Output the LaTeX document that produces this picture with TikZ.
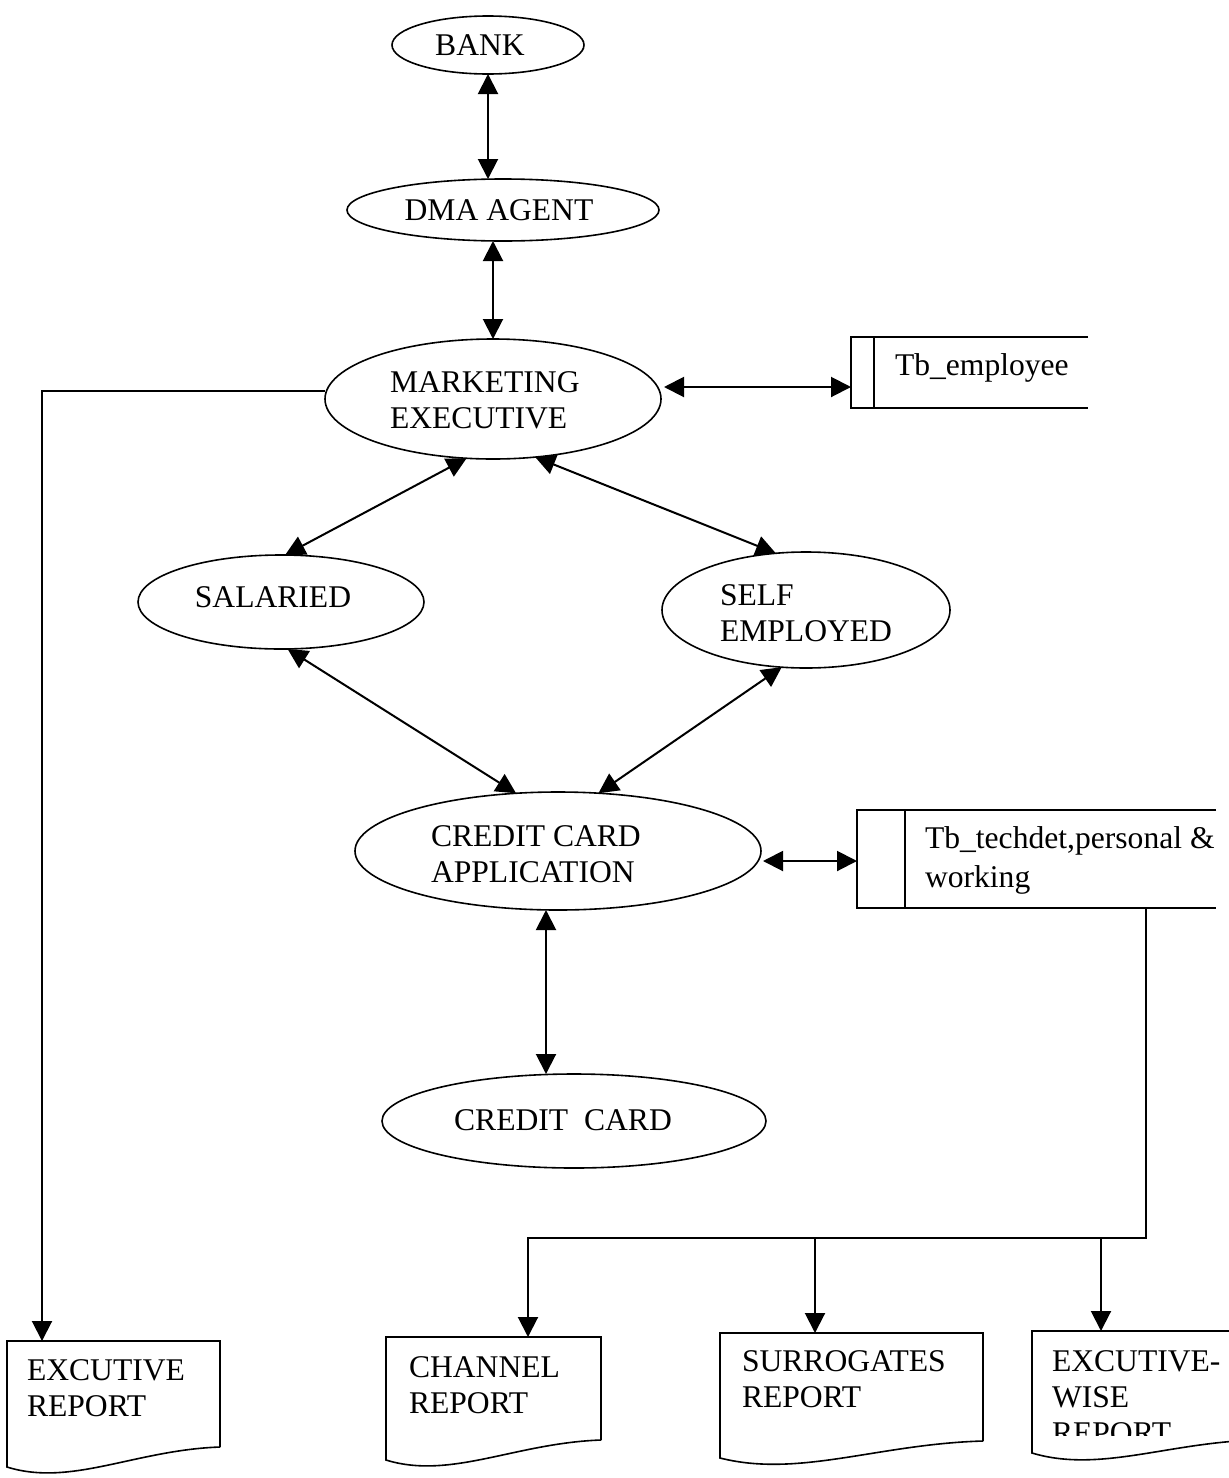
\documentclass[tikz,border=0pt]{standalone}
\usepackage{fontspec}
\setmainfont{Liberation Serif}
\usetikzlibrary{arrows.meta,shapes.geometric}
\newcommand{\reportshape}[5]{%
  \draw[shapeline] (#2,#5) -- (#2,#3) -- (#1,#3) -- (#1,#4)
    .. controls ({#1+0.3*(#2-#1)},{#4+20}) and ({#1+0.6*(#2-#1)},{#5+3}) .. (#2,#5);}
\begin{document}
\begin{tikzpicture}[x=0.5pt,y=-0.5pt,
  >={Triangle[length=10pt,width=10pt]},
  txt/.style={font=\fontsize{15.8}{18}\selectfont, inner sep=0pt, outer sep=0pt, align=left},
  oval/.style={ellipse, draw, line width=0.8pt, inner sep=0pt, outer sep=0pt},
  shapeline/.style={line width=0.8pt},
  storebox/.style={inner sep=0pt, outer sep=0pt},
  biarrow/.style={line width=1pt, <->},
  onearrow/.style={line width=1pt, ->}
]
\path[fill=white,use as bounding box] (0,0) rectangle (1229,1478);

% ovals
\node[oval, minimum width=96pt, minimum height=29pt] (bank) at (488,45) {};
\node[oval, minimum width=156pt, minimum height=31pt] (dma) at (503,210) {};
\node[oval, minimum width=168pt, minimum height=60pt] (me) at (493,399) {};
\node[oval, minimum width=143pt, minimum height=47pt] (sal) at (281,602) {};
\node[oval, minimum width=144pt, minimum height=58pt] (sel) at (806,610) {};
\node[oval, minimum width=203pt, minimum height=59pt] (cca) at (558,851) {};
\node[oval, minimum width=192pt, minimum height=47pt] (cc) at (574,1121) {};

\node[txt] (bank-t) at (480,45) {BANK};
\node[txt] (dma-t) at (499,210) {DMA AGENT};
\node[txt, anchor=west] (me-t) at (390,400) {MARKETING\\EXECUTIVE};
\node[txt] (sal-t) at (273,597) {SALARIED};
\node[txt, anchor=west] (sel-t) at (720,613) {SELF\\EMPLOYED};
\node[txt, anchor=west] (cca-t) at (431,854) {CREDIT CARD\\APPLICATION};
\node[txt] (cc-t) at (563,1120) {CREDIT\ \ CARD};

% data stores
\node[storebox, minimum width=118.5pt, minimum height=35.5pt, anchor=north west] (tbe) at (851,337) {};
\draw[shapeline] (tbe.north east) -- (tbe.north west) -- (tbe.south west) -- (tbe.south east);
\draw[shapeline] ([xshift=11.5pt]tbe.north west) -- ([xshift=11.5pt]tbe.south west);
\node[txt, anchor=west] (tbe-t) at (895,368) {Tb\_employee};

\node[storebox, minimum width=179.5pt, minimum height=49pt, anchor=north west] (tbt) at (857,810) {};
\draw[shapeline] (tbt.north east) -- (tbt.north west) -- (tbt.south west) -- (tbt.south east);
\draw[shapeline] ([xshift=24pt]tbt.north west) -- ([xshift=24pt]tbt.south west);
\node[txt, anchor=west, font=\fontsize{15.8}{19.5}\selectfont] (tbt-t) at (925,860) {Tb\_techdet,personal \&\\working};

% reports
\reportshape{7}{220}{1341}{1467}{1447}
\reportshape{386}{601}{1337}{1460}{1440}
\reportshape{720}{983}{1333}{1458}{1441}
\reportshape{1032}{1255}{1331}{1453}{1440}
\coordinate (r1top) at (42,1341);
\coordinate (r2top) at (528,1337);
\coordinate (r3top) at (815,1333);
\coordinate (r4top) at (1101,1331);
\coordinate (bus) at (1146,1238);

\node[txt, anchor=west] (r1-t) at (27,1388) {EXCUTIVE\\REPORT};
\node[txt, anchor=west] (r2-t) at (409,1385) {CHANNEL\\REPORT};
\node[txt, anchor=west] (r3-t) at (742,1379) {SURROGATES\\REPORT};
\begin{scope}
\clip (1032,1320) rectangle (1229,1435);
\node[txt, anchor=west] (r4-t) at (1052,1397) {EXCUTIVE-\\WISE\\REPORT};
\end{scope}

% connectors
\draw[biarrow] (bank.south) -- (bank.south |- dma.north);
\draw[biarrow] (me.north |- dma.south) -- (me.north);
\draw[biarrow] ([yshift=6pt,xshift=1.5pt]me.east) -- ([yshift=6pt]me.east -| tbe.west);
\draw[biarrow] (me.-114) -- (sal.85);
\draw[biarrow] (me.-54) -- (sel.118);
\draw[biarrow] (sal.-82) -- (cca.126);
\draw[biarrow] (sel.-113) -- (cca.55);
\draw[biarrow] ([yshift=-5pt,xshift=1pt]cca.east) -- ([yshift=-5pt]cca.east -| tbt.west);
\draw[biarrow] ([xshift=-6pt]cca.south) -- ([xshift=-6pt]cca.south |- cc.north);

\draw[onearrow] ([yshift=4pt]me.west) -| (r1top);
\draw[onearrow] (tbt.south -| bus) -- (bus) -| (r2top);
\draw[onearrow] (bus -| r3top) -- (r3top);
\draw[onearrow] (bus -| r4top) -- (r4top);
\end{tikzpicture}
\end{document}
